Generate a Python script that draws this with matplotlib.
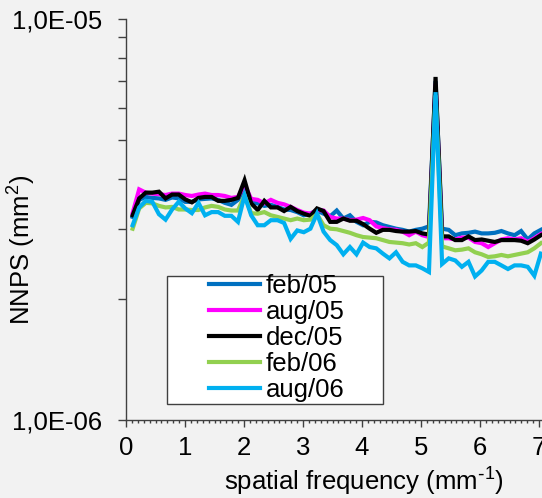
import numpy as np
import matplotlib
matplotlib.use("Agg")
import matplotlib.pyplot as plt
from matplotlib.ticker import FixedLocator, FixedFormatter, NullFormatter
from matplotlib.patches import Rectangle

plt.rcParams['font.family'] = ['Liberation Sans', 'DejaVu Sans']
plt.rcParams['mathtext.default'] = 'regular'

# spatial frequency (mm^-1)
freq = [0.112, 0.223, 0.335, 0.446, 0.558, 0.670, 0.781, 0.893, 1.004, 1.116,
        1.228, 1.339, 1.451, 1.562, 1.674, 1.786, 1.897, 2.009, 2.121, 2.232,
        2.344, 2.455, 2.567, 2.679, 2.790, 2.902, 3.013, 3.125, 3.237, 3.348,
        3.460, 3.571, 3.683, 3.795, 3.906, 4.018, 4.129, 4.241, 4.353, 4.464,
        4.576, 4.688, 4.799, 4.911, 5.022, 5.134, 5.246, 5.357, 5.469, 5.580,
        5.692, 5.804, 5.915, 6.027, 6.138, 6.250, 6.362, 6.473, 6.585, 6.696,
        6.808, 6.920, 7.031]

# NNPS values in units of 1e-6 mm^2
feb05 = [3.21, 3.54, 3.60, 3.58, 3.57, 3.54, 3.59, 3.57, 3.50, 3.50,
         3.55, 3.56, 3.57, 3.54, 3.48, 3.44, 3.54, 3.78, 3.48, 3.47,
         3.42, 3.44, 3.40, 3.35, 3.34, 3.30, 3.24, 3.27, 3.33, 3.27,
         3.22, 3.33, 3.18, 3.24, 3.12, 3.06, 3.12, 3.11, 3.06, 3.03,
         3.00, 2.98, 2.95, 2.98, 3.00, 3.04, 7.00, 3.00, 2.98, 2.89,
         2.92, 2.93, 2.95, 2.92, 2.92, 2.93, 2.96, 2.92, 2.89, 2.96,
         2.82, 2.92, 2.98]
aug05 = [3.28, 3.76, 3.69, 3.67, 3.66, 3.64, 3.67, 3.67, 3.64, 3.62,
         3.65, 3.67, 3.64, 3.64, 3.62, 3.58, 3.60, 3.86, 3.56, 3.54,
         3.47, 3.54, 3.48, 3.45, 3.40, 3.34, 3.29, 3.27, 3.34, 3.33,
         3.21, 3.18, 3.18, 3.15, 3.16, 3.19, 3.15, 3.04, 3.01, 2.99,
         2.98, 2.95, 2.89, 2.95, 2.89, 2.86, 6.90, 2.84, 2.84, 2.82,
         2.85, 2.85, 2.78, 2.76, 2.70, 2.76, 2.82, 2.84, 2.82, 2.84,
         2.78, 2.84, 2.91]
dec05 = [3.24, 3.57, 3.69, 3.69, 3.71, 3.57, 3.65, 3.65, 3.55, 3.49,
         3.58, 3.60, 3.60, 3.52, 3.52, 3.54, 3.58, 3.96, 3.47, 3.34,
         3.52, 3.39, 3.39, 3.32, 3.40, 3.32, 3.27, 3.23, 3.37, 3.32,
         3.12, 3.12, 3.18, 3.14, 3.14, 3.08, 3.00, 2.93, 2.98, 2.98,
         2.96, 2.95, 2.95, 2.96, 2.92, 2.90, 7.17, 2.87, 2.87, 2.81,
         2.81, 2.87, 2.81, 2.82, 2.80, 2.78, 2.81, 2.81, 2.81, 2.80,
         2.76, 2.82, 2.89]
feb06 = [3.00, 3.37, 3.48, 3.47, 3.42, 3.39, 3.40, 3.35, 3.35, 3.34,
         3.34, 3.39, 3.42, 3.40, 3.35, 3.33, 3.33, 3.63, 3.28, 3.27,
         3.30, 3.24, 3.21, 3.18, 3.15, 3.18, 3.15, 3.16, 3.26, 3.06,
         3.00, 2.99, 2.96, 2.93, 2.89, 2.86, 2.85, 2.84, 2.81, 2.78,
         2.77, 2.76, 2.74, 2.76, 2.70, 2.77, 6.45, 2.71, 2.68, 2.65,
         2.66, 2.68, 2.62, 2.59, 2.55, 2.56, 2.58, 2.56, 2.58, 2.60,
         2.62, 2.68, 2.76]
aug06 = [3.06, 3.39, 3.52, 3.50, 3.26, 3.16, 3.35, 3.50, 3.37, 3.28,
         3.48, 3.24, 3.30, 3.30, 3.23, 3.23, 3.12, 3.63, 3.24, 3.06,
         3.06, 3.15, 3.15, 3.10, 2.83, 2.97, 2.94, 3.00, 3.27, 2.95,
         2.81, 2.73, 2.59, 2.70, 2.59, 2.77, 2.70, 2.68, 2.60, 2.53,
         2.62, 2.48, 2.43, 2.43, 2.39, 2.34, 6.57, 2.45, 2.53, 2.50,
         2.41, 2.48, 2.28, 2.36, 2.48, 2.48, 2.43, 2.38, 2.43, 2.43,
         2.41, 2.29, 2.60]

labels = ['feb/05', 'aug/05', 'dec/05', 'feb/06', 'aug/06']
colors = ['#0070c0', '#ff00ff', '#000000', '#92d050', '#00b0f0']
series = [feb05, aug05, dec05, feb06, aug06]

bg = '#f2f2f2'
fig = plt.figure(figsize=(5.42, 4.98), dpi=100, facecolor=bg)
ax = fig.add_axes([0.2325, 0.1566, 0.7675, 0.8052], facecolor=bg)

for vals, lab, col in zip(series, labels, colors):
    ax.plot(freq, np.array(vals) * 1e-6, color=col, lw=3.0, label=lab,
            solid_joinstyle='miter')

ax.set_yscale('log')
ax.set_ylim(1e-6, 1e-5)
ax.set_xlim(0, 7.05)

ax.yaxis.set_major_locator(FixedLocator([1e-6, 1e-5]))
ax.yaxis.set_major_formatter(FixedFormatter(['1,0E-06', '1,0E-05']))
ax.yaxis.set_minor_locator(FixedLocator([k * 1e-6 for k in range(2, 10)]))
ax.yaxis.set_minor_formatter(NullFormatter())
ax.xaxis.set_major_locator(FixedLocator(range(0, 8)))
ax.xaxis.set_minor_locator(FixedLocator([i / 10 for i in range(0, 71)]))

ax.tick_params(axis='y', which='both', length=5.5, width=1, color='#404040',
               labelsize=18.5, pad=11.5)
ax.tick_params(axis='x', which='major', length=5, width=1, color='#404040',
               labelsize=18.5, pad=6.5)
ax.tick_params(axis='x', which='minor', length=2.5, width=1, color='#404040')

for s in ['top', 'right']:
    ax.spines[s].set_visible(False)
for s in ['left', 'bottom']:
    ax.spines[s].set_color('#404040')
    ax.spines[s].set_linewidth(1)

ax.set_ylabel('NNPS (mm$^{2}$)', fontsize=18.5)
ax.yaxis.set_label_coords(-0.212, 0.424)
ax.set_xlabel(r'spatial frequency (mm$^{\text{-}1}$)', fontsize=18.5)
ax.xaxis.set_label_coords(0.572, -0.115)

ax.add_patch(Rectangle((0.0986, 0.040), 0.519, 0.320, transform=ax.transAxes,
                       facecolor='white', edgecolor='#404040', lw=1, zorder=4,
                       clip_on=False))
ax.legend(loc='upper left', bbox_to_anchor=(0.1995, 0.364), frameon=False,
          fontsize=18.5, handlelength=2.0, handletextpad=0.2, labelspacing=0.08,
          borderpad=0, borderaxespad=0).set_zorder(5)

fig.savefig('out.png', dpi=100, facecolor=bg)
